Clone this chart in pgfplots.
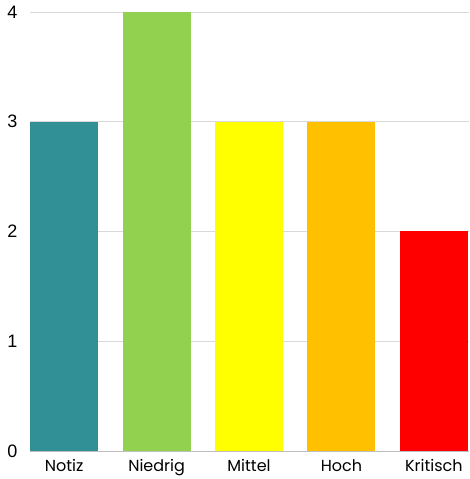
\documentclass[border=0pt]{standalone}
\usepackage{fontspec}
\setmainfont{Liberation Sans}
\newfontfamily\pop{Poppins}
\usepackage{pgfplots}
\pgfplotsset{compat=1.18}
\definecolor{cTeal}{RGB}{49,143,150}
\definecolor{cGreen}{RGB}{146,208,80}
\definecolor{cYellow}{RGB}{255,255,0}
\definecolor{cOrange}{RGB}{255,192,0}
\definecolor{cRed}{RGB}{255,0,0}
\definecolor{cGrid}{RGB}{217,217,217}
\begin{document}
\begin{tikzpicture}
\begin{axis}[
  scale only axis, width=439pt, height=439pt,
  ymin=0, ymax=4, xmin=-0.37, xmax=4.38,
  ybar, bar width=0.736, bar shift=0pt,
  axis x line*=bottom, axis y line*=left,
  x axis line style={draw=black!25, line width=0.8pt},
  y axis line style={draw=none},
  ytick={0,1,2,3,4}, xtick={0,1,2,3,4},
  xticklabels={Notiz,Niedrig,Mittel,Hoch,Kritisch},
  xticklabel style={font=\pop\fontsize{16}{18}\selectfont, yshift=-5pt},
  yticklabel style={font=\fontsize{18}{20}\selectfont, xshift=-9pt},
  /pgf/number format/assume math mode=true,
  ymajorgrids, grid style={cGrid, line width=0.8pt},
  major tick length=0pt, tick style={draw=none},
  clip=false,
]
\addplot[fill=cTeal, draw=none] coordinates {(0,3)};
\addplot[fill=cGreen, draw=none] coordinates {(1,4)};
\addplot[fill=cYellow, draw=none] coordinates {(2,3)};
\addplot[fill=cOrange, draw=none] coordinates {(3,3)};
\addplot[fill=cRed, draw=none] coordinates {(4,2)};
\end{axis}
\pgfresetboundingbox
\path ([xshift=-30pt,yshift=-28pt]current axis.south west) rectangle ([yshift=12pt]current axis.north east);
\end{tikzpicture}
\end{document}
